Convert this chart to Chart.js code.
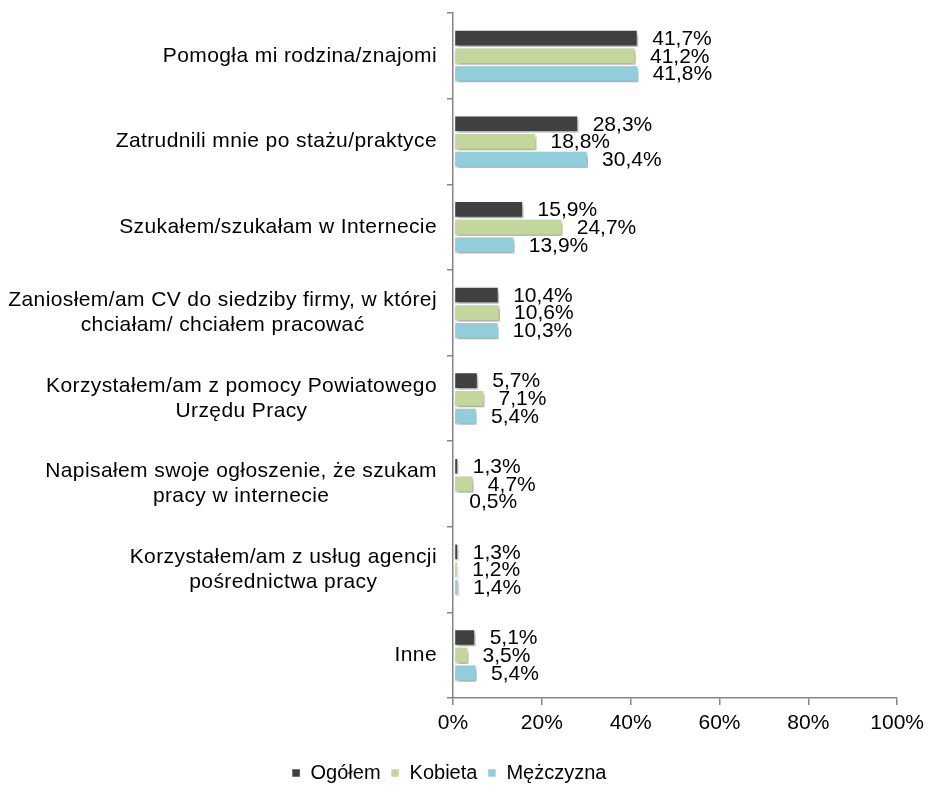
<!DOCTYPE html>
<html><head><meta charset="utf-8">
<script src="https://cdn.jsdelivr.net/npm/chart.js@4/dist/chart.umd.min.js"></script>
<style>html,body{margin:0;padding:0;background:#fff}#wrap{width:930px;height:785px}</style>
</head><body><div id="wrap"><canvas id="c" width="930" height="785"></canvas></div>
<script>
const categories = [
  ["Pomogła mi rodzina/znajomi"],
  ["Zatrudnili mnie po stażu/praktyce"],
  ["Szukałem/szukałam w Internecie"],
  ["Zaniosłem/am CV do siedziby firmy, w której", "chciałam/ chciałem pracować"],
  ["Korzystałem/am z pomocy Powiatowego", "Urzędu Pracy"],
  ["Napisałem swoje ogłoszenie, że szukam", "pracy w internecie"],
  ["Korzystałem/am z usług agencji", "pośrednictwa pracy"],
  ["Inne"]
];
const seriesNames = ["Ogółem", "Kobieta", "Mężczyzna"];
const ogolem = [41.7, 28.3, 15.9, 10.4, 5.7, 1.3, 1.3, 5.1];
const kobieta = [41.2, 18.8, 24.7, 10.6, 7.1, 4.7, 1.2, 3.5];
const mezczyzna = [41.8, 30.4, 13.9, 10.3, 5.4, 0.5, 1.4, 5.4];
const xTicks = [0, 20, 40, 60, 80, 100];
const colors = ["#404040", "#c3d69b", "#92cddc"];

const FONT = "'Liberation Sans', Arial, sans-serif";

const shadowPlugin = {
  id: 'shadow',
  beforeDatasetDraw(chart) {
    const ctx = chart.ctx; ctx.save();
    ctx.shadowColor = 'rgba(0,0,0,0.35)';
    ctx.shadowBlur = 4; ctx.shadowOffsetX = 2; ctx.shadowOffsetY = 3;
  },
  afterDatasetDraw(chart) { chart.ctx.restore(); }
};
const labelPlugin = {
  id: 'vlabels',
  afterDatasetsDraw(chart) {
    const ctx = chart.ctx; ctx.save();
    ctx.font = "21px " + FONT; ctx.fillStyle = "#000";
    ctx.textAlign = 'left'; ctx.textBaseline = 'middle';
    chart.data.datasets.forEach((ds, i) => {
      chart.getDatasetMeta(i).data.forEach((el, j) => {
        const v = ds.data[j];
        ctx.fillText(v.toFixed(1).replace('.', ',') + '%', el.x + 14, el.y + 1);
      });
    });
    // category labels: block right-aligned to axis, lines centered within block
    const ys = chart.scales.y;
    ctx.font = "21px " + FONT; ctx.textAlign = 'center';
    if ('letterSpacing' in ctx) ctx.letterSpacing = '0.4px';
    const right = ys.right - 16, lh = 25;
    categories.forEach((lines, i) => {
      const cy = ys.getPixelForTick(i);
      const w = Math.max(...lines.map(l => ctx.measureText(l).width));
      const cx = right - w / 2;
      lines.forEach((l, k) => {
        ctx.fillText(l, cx, cy + (k - (lines.length - 1) / 2) * lh);
      });
    });
    ctx.restore();
  }
};

new Chart(document.getElementById('c'), {
  type: 'bar',
  data: {
    labels: categories,
    datasets: [ogolem, kobieta, mezczyzna].map((d, i) => ({
      label: seriesNames[i], data: d, backgroundColor: colors[i],
      borderColor: '#ffffff', borderWidth: 1.5, borderSkipped: false,
      categoryPercentage: 0.62, barPercentage: 1.0
    }))
  },
  options: {
    indexAxis: 'y', responsive: false, animation: false,
    layout: { padding: { top: 13, right: 32, left: 0, bottom: -8 } },
    plugins: {
      tooltip: { enabled: false },
      legend: {
        position: 'bottom',
        labels: { font: { family: FONT, size: 20 }, color: '#000', boxWidth: 9, boxHeight: 9, padding: 10 }
      }
    },
    scales: {
      x: {
        min: 0, max: 100,
        afterBuildTicks(s) { s.ticks = xTicks.map(v => ({ value: v })); },
        afterFit(s) { s.height = 55; },
        ticks: { callback: v => v + '%', font: { family: FONT, size: 21 }, color: '#000', padding: 6 },
        grid: { drawOnChartArea: false, tickLength: 7, color: '#868686', lineWidth: 1.5 },
        border: { color: '#868686', width: 1.5 }
      },
      y: {
        afterFit(s) { s.width = 453; },
        ticks: { display: false },
        grid: { drawOnChartArea: false, tickLength: 6, color: '#868686', lineWidth: 1.5, offset: true },
        border: { color: '#868686', width: 1.5 }
      }
    }
  },
  plugins: [shadowPlugin, labelPlugin]
});
</script></body></html>
